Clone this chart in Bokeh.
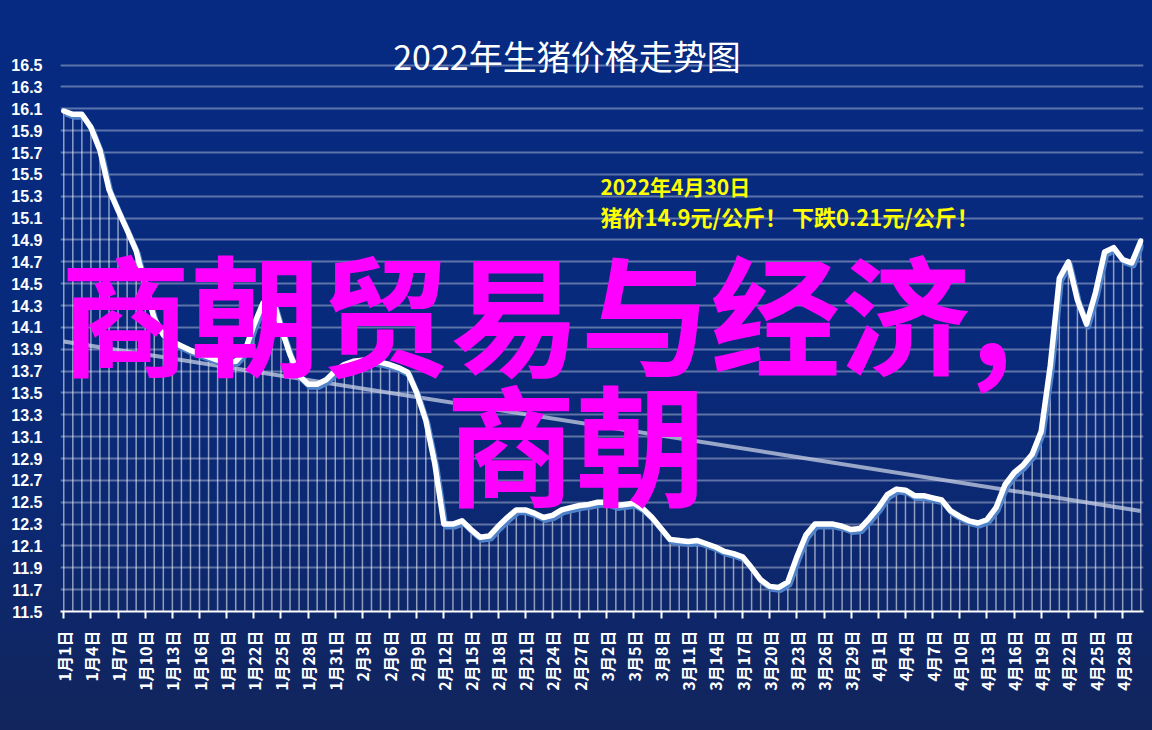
import math
import pandas as pd
from bokeh.plotting import figure
from bokeh.models import (ColumnDataSource, Range1d, FixedTicker, Label)
from bokeh.transform import dodge
from bokeh.embed import file_html
from bokeh.resources import INLINE

# ---------------- data ----------------
dates = pd.date_range("2022-01-01", "2022-04-30", freq="D")
day_labels = [f"{d.month}月{d.day}日" for d in dates]
days = list(range(len(dates)))

prices = [
    16.08, 16.05, 16.05, 15.93, 15.72, 15.36, 15.17, 14.99, 14.80, 14.48,
    14.18, 14.03, 13.97, 13.93, 13.89, 13.86, 13.83, 13.80, 13.78, 13.79,
    13.88, 14.12, 14.32, 14.38, 14.10, 13.85, 13.66, 13.58, 13.58, 13.62,
    13.70, 13.76, 13.79, 13.80, 13.79, 13.78, 13.76, 13.73, 13.69, 13.50,
    13.25, 12.85, 12.30, 12.30, 12.33, 12.25, 12.18, 12.19, 12.28, 12.36,
    12.43, 12.43, 12.40, 12.36, 12.38, 12.43, 12.45, 12.47, 12.48, 12.50,
    12.50, 12.47, 12.48, 12.49, 12.44, 12.36, 12.26, 12.16, 12.15, 12.14,
    12.15, 12.12, 12.09, 12.05, 12.03, 12.00, 11.90, 11.79, 11.73, 11.72,
    11.77, 12.00, 12.20, 12.30, 12.30, 12.30, 12.28, 12.25, 12.26, 12.35,
    12.45, 12.57, 12.62, 12.61, 12.56, 12.56, 12.54, 12.52, 12.42, 12.37,
    12.33, 12.31, 12.34, 12.45, 12.66, 12.77, 12.84, 12.94, 13.15, 13.75,
    14.55, 14.70, 14.35, 14.13, 14.42, 14.79, 14.83, 14.72, 14.69, 14.89,
]

trend_values = [13.97, 12.42]          # trend line at first and last day
y_ticks = [round(11.5 + 0.2 * i, 1) for i in range(26)]
x_ticks = list(range(0, len(days), 3))

title_text = "2022年生猪价格走势图"
note_line1 = "2022年4月30日"
note_line2 = "猪价14.9元/公斤！ 下跌0.21元/公斤！"
overlay_line1 = "商朝贸易与经济,"
overlay_line2 = "商朝"

Y_MIN = y_ticks[0]

# ---------------- figure ----------------
p = figure(width=1136, height=714,
           x_range=Range1d(-0.36, 119.3), y_range=Range1d(11.5, 17.0),
           output_backend="svg", toolbar_location=None,
           min_border_left=50, min_border_right=1,
           min_border_top=2, min_border_bottom=111)

p.background_fill_alpha = 0
p.border_fill_alpha = 0
p.outline_line_color = None

p.xgrid.grid_line_color = None
p.ygrid.grid_line_color = "white"
p.ygrid.grid_line_alpha = 0.35
p.ygrid.grid_line_width = 2

p.yaxis.ticker = FixedTicker(ticks=y_ticks)
p.yaxis.major_label_overrides = {t: f"{t:.1f}" for t in y_ticks}
p.yaxis.axis_line_color = None
p.yaxis.major_tick_line_color = None
p.yaxis.minor_tick_line_color = None
p.yaxis.major_label_text_color = "white"
p.yaxis.major_label_text_font = "Liberation Sans"
p.yaxis.major_label_text_font_style = "bold"
p.yaxis.major_label_text_font_size = "16px"
p.yaxis.major_label_standoff = 12

p.xaxis.ticker = FixedTicker(ticks=x_ticks)
p.xaxis.major_label_overrides = {i: day_labels[i] for i in x_ticks}
p.xaxis.major_label_orientation = math.pi / 2
p.xaxis.axis_line_color = "white"
p.xaxis.axis_line_width = 2
p.xaxis.major_tick_line_color = "white"
p.xaxis.major_tick_line_width = 2
p.xaxis.major_tick_out = 7
p.xaxis.major_tick_in = 0
p.xaxis.minor_tick_line_color = None
p.xaxis.major_label_text_color = "white"
p.xaxis.major_label_text_font = "Noto Sans CJK SC"
p.xaxis.major_label_text_font_style = "bold"
p.xaxis.major_label_text_font_size = "16px"
p.xaxis.major_label_standoff = 12

src = ColumnDataSource(dict(day=days, price=prices, base=[Y_MIN] * len(days)))

# drop lines
p.segment(x0="day", y0="base", x1="day", y1="price", source=src,
          line_color="white", line_alpha=0.55, line_width=1.5)

# trend line
p.line(x=[days[0], days[-1]], y=trend_values, line_color="#c8d0e4",
       line_alpha=0.75, line_width=4)

# shadow + main line
p.line(x=dodge("day", 0.2, range=p.x_range), y=dodge("price", -0.025, range=p.y_range),
       source=src, line_color="#4f82c8", line_width=5.5, line_join="round")
p.line(x="day", y="price", source=src, line_color="white", line_width=5.5,
       line_join="round", line_cap="round")

# title & annotation
p.add_layout(Label(x=55.6, y=16.59, text=title_text, text_align="center",
                   text_baseline="middle", text_color="white",
                   text_font="Noto Sans CJK SC", text_font_size="34px"))
p.add_layout(Label(x=59.3, y=15.39, text=note_line1, text_align="left",
                   text_baseline="middle", text_color="#ffff00",
                   text_font="Noto Sans CJK SC", text_font_style="bold",
                   text_font_size="21px"))
p.add_layout(Label(x=59.3, y=15.12, text=note_line2, text_align="left",
                   text_baseline="middle", text_color="#ffff00",
                   text_font="Noto Sans CJK SC", text_font_style="bold",
                   text_font_size="22px"))

# magenta overlay
p.add_layout(Label(x=-0.37, y=14.27, text=overlay_line1, text_align="left",
                   text_baseline="middle", text_color="#ff00ff",
                   text_font="Noto Sans CJK SC", text_font_style="bold",
                   text_font_size="130px"))
p.add_layout(Label(x=42.2, y=13.08, text=overlay_line2, text_align="left",
                   text_baseline="middle", text_color="#ff00ff",
                   text_font="Noto Sans CJK SC", text_font_style="bold",
                   text_font_size="130px"))

html = file_html(p, INLINE, title="2022年生猪价格走势图")
style = ("<style>html{min-height:100%;background:linear-gradient(180deg,"
         "#062a82 0%,#082a7c 45%,#0c2870 75%,#12255c 100%);}"
         "body{margin:8px;background:transparent;}</style>")
html = html.replace("</head>", style + "</head>", 1)
open("out.html", "w").write(html)
